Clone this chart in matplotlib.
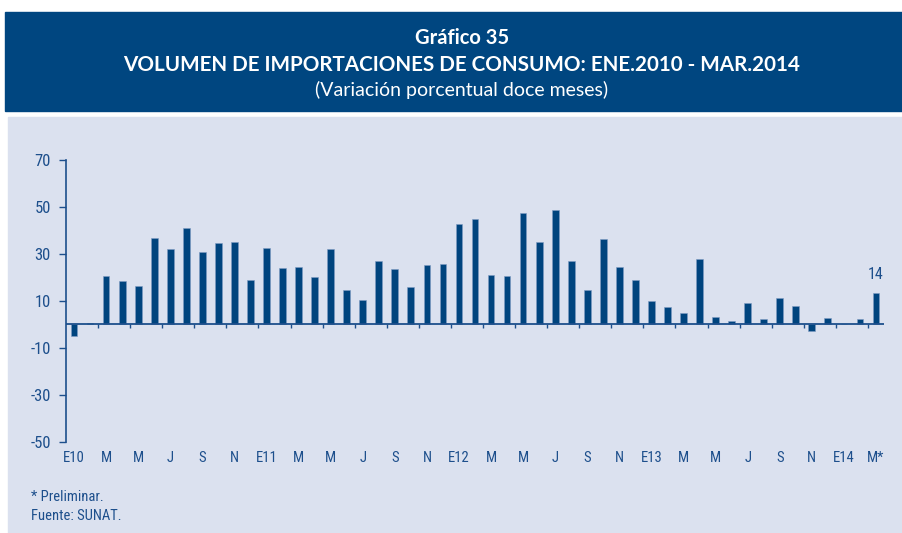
import numpy as np
import matplotlib
matplotlib.use("Agg")
import matplotlib.pyplot as plt
from matplotlib import font_manager
from matplotlib.patches import Rectangle

# Datos: variación porcentual doce meses, ene.2010 - mar.2014
valores = [-5.0, 0.7, 20.6, 18.6, 16.5, 36.9, 32.2, 41.0, 31.0, 34.8, 35.2, 18.8,
           32.7, 23.9, 24.4, 20.3, 32.0, 14.5, 10.5, 26.8, 23.6, 15.8, 25.4, 25.9,
           42.9, 44.7, 20.9, 20.6, 47.6, 35.2, 48.7, 27.0, 14.8, 36.5, 24.3, 18.9,
           10.1, 7.2, 4.7, 27.7, 3.3, 1.3, 8.9, 2.1, 11.2, 8.0, -2.7, 2.8,
           0.0, 2.4, 13.5]
etiquetas_x = ["E10", "M", "M", "J", "S", "N",
               "E11", "M", "M", "J", "S", "N",
               "E12", "M", "M", "J", "S", "N",
               "E13", "M", "M", "J", "S", "N",
               "E14", "M*"]
ticks_y = [70, 50, 30, 10, -10, -30, -50]
etiqueta_final = "14"


def elegir_fuente(opciones):
    for f in opciones:
        try:
            font_manager.findfont(f, fallback_to_default=False)
            return f
        except Exception:
            pass
    return "DejaVu Sans"


fuente_estrecha = elegir_fuente(["Liberation Sans Narrow", "DejaVu Sans Condensed", "Roboto Condensed", "DejaVu Sans"])
fuente_titulo = elegir_fuente(["Lato", "Open Sans", "DejaVu Sans"])

azul_oscuro = "#004680"
azul_barra = "#00447e"
azul_texto = "#1d4f8c"
fondo = "#dbe1ef"

fig = plt.figure(figsize=(9.03, 5.33), dpi=100)
W, H = 903, 533

# cabecera y panel
fig.patches.append(Rectangle((5 / W, 1 - 111 / H), 898 / W, 99 / H, transform=fig.transFigure,
                             color=azul_oscuro, zorder=0))
fig.patches.append(Rectangle((8 / W, 0), 895 / W, 1 - 117 / H, transform=fig.transFigure,
                             color=fondo, zorder=0))

fig.text(462 / W, 1 - 38 / H, "Gráfico 35", color="white", fontsize=14.5, fontweight="bold",
         family=fuente_titulo, ha="center", va="center")
fig.text(462 / W, 1 - 65 / H, "VOLUMEN DE IMPORTACIONES DE CONSUMO: ENE.2010 - MAR.2014",
         color="white", fontsize=14.9, fontweight="bold", family=fuente_titulo,
         ha="center", va="center")
fig.text(462 / W, 1 - 90 / H, "(Variación porcentual doce meses)", color="white", fontsize=14,
         family=fuente_titulo, ha="center", va="center")

ax = fig.add_axes([66 / W, 1 - 441.7 / H, (884 - 66) / W, (441.7 - 160) / H])
ax.set_zorder(5)
ax.set_facecolor("none")

x = np.arange(len(valores))
ax.bar(x, valores, width=0.42, color=azul_barra, edgecolor="#7f9cc4", linewidth=0.4, zorder=3)
ax.axhline(0, color=azul_texto, lw=1.3, zorder=4)

# marcas sobre la línea de cero, cada dos meses
marcas = np.arange(1.5, len(valores) - 1, 2)
ax.vlines(marcas, -1.4, 0, color=azul_texto, lw=1.0, zorder=4)

ax.set_xlim(-0.5, len(valores) - 0.5)
ax.set_ylim(min(ticks_y), max(ticks_y))
ax.set_yticks(ticks_y)
ax.set_yticklabels([str(t) for t in ticks_y], family=fuente_estrecha, fontsize=12, color=azul_texto)
ax.tick_params(axis="y", direction="out", length=5, width=1.0, color=azul_texto, pad=6)

ax.set_xticks(x[::2])
ax.set_xticklabels(etiquetas_x, family=fuente_estrecha, fontsize=10.5, color=azul_texto)
ax.tick_params(axis="x", length=0, pad=7)

for s in ["top", "right", "bottom"]:
    ax.spines[s].set_visible(False)
ax.spines["left"].set_color(azul_texto)
ax.spines["left"].set_linewidth(1.2)

ax.annotate(etiqueta_final, (x[-1], valores[-1]), xytext=(0, 8), textcoords="offset points",
            ha="center", va="bottom", family=fuente_estrecha, fontsize=11.5, color=azul_texto)

fig.text(31 / W, 1 - 497 / H, "* Preliminar.", family=fuente_estrecha, fontsize=10.5,
         color=azul_texto, ha="left", va="center")
fig.text(31 / W, 1 - 516 / H, "Fuente: SUNAT.", family=fuente_estrecha, fontsize=10.5,
         color=azul_texto, ha="left", va="center")

fig.savefig("out.png", dpi=100)
